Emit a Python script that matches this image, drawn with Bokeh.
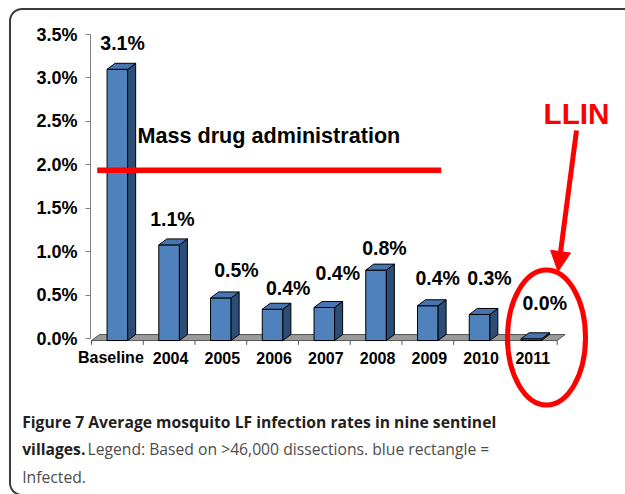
from bokeh.plotting import figure
from bokeh.models import (FixedTicker, PrintfTickFormatter, Label, Arrow, NormalHead,
                          ColumnDataSource, Range1d)
from bokeh.core.properties import value
from bokeh.embed import file_html
from bokeh.resources import INLINE
import numpy as np

# ---------------- data ----------------
categories = ["Baseline", "2004", "2005", "2006", "2007", "2008", "2009", "2010", "2011"]
infection_rate = [3.10, 1.08, 0.47, 0.34, 0.36, 0.79, 0.38, 0.28, 0.00]   # percent
value_labels = ["3.1%", "1.1%", "0.5%", "0.4%", "0.4%", "0.8%", "0.4%", "0.3%", "0.0%"]
y_ticks = [0.0, 0.5, 1.0, 1.5, 2.0, 2.5, 3.0, 3.5]
mda_level = 1.94
caption_bold_1 = "Figure 7 Average mosquito LF infection rates in nine sentinel"
caption_bold_2 = "villages."
caption_norm_2 = "Legend: Based on >46,000 dissections. blue rectangle ="
caption_norm_3 = "Infected."

# ---------------- layout / style ----------------
PX_X = 51.74   # pixels per category
PX_Y = 86.94   # pixels per percent
X0 = 116.87    # pixel of first category centre
Y0 = 338.3     # pixel of 0 %
W, H = 625, 494


def dx(px):
    return (px - X0) / PX_X


def dy(py):
    return (Y0 - py) / PX_Y


hw = 10.3 / PX_X          # half width of front face
ddx = 8.0 / PX_X          # 3D depth in x
ddy = 6.0 / PX_Y          # 3D depth in y
base = -0.02
label_dx = [0.10, 0.065, 0.30, 0.30, 0.26, 0.16, 0.19, 0.19, 0.26]
label_dy = [0.30, 0.30, 0.32, 0.24, 0.40, 0.25, 0.32, 0.42, 0.41]
cat_dx = [-6.5 / PX_X] + [1.5 / PX_X] * 8

FRONT = "#4F81BD"
SIDE = "#2C4D75"
TOP = "#4775B2"
FONT = "Liberation Sans"

p = figure(width=W, height=H, output_backend="svg", toolbar_location=None,
           x_range=Range1d(dx(0), dx(W)), y_range=Range1d(dy(H), dy(0)),
           x_axis_location=None, y_axis_location="left", min_border=0,
           min_border_left=0, min_border_right=0, min_border_top=0, min_border_bottom=0)
p.outline_line_color = None
p.grid.visible = False
p.background_fill_color = "white"
p.border_fill_color = "white"

n = len(categories)

# rounded frame of the figure panel
r = 12
t1 = np.linspace(np.pi / 2, np.pi, 10)          # bottom-left corner
t2 = np.linspace(np.pi, 1.5 * np.pi, 10)        # top-left corner
cx, top_y, bot_y = 9.5, 8.5, 494.5
bx_px = list(cx + r + r * np.cos(t1)) + list(cx + r + r * np.cos(t2)) + [660]
by_px = list(bot_y - r + r * np.sin(t1)) + list(top_y + r + r * np.sin(t2)) + [top_y]
p.line([dx(v) for v in bx_px], [dy(v) for v in by_px], line_color="#3c3c3c", line_width=2)

# floor
p.patch([-0.5, n - 0.5, n - 0.5 + ddx, -0.5 + ddx],
        [base, base, base + ddy, base + ddy],
        fill_color="#9a9a9a", line_color="#555555", line_width=1)

front_xs, front_ys, side_xs, side_ys, top_xs, top_ys = [], [], [], [], [], []
for i, v in enumerate(infection_rate):
    front_xs.append([i - hw, i + hw, i + hw, i - hw])
    front_ys.append([base, base, v, v])
    side_xs.append([i + hw, i + hw + ddx, i + hw + ddx, i + hw])
    side_ys.append([base, base + ddy, v + ddy, v])
    top_xs.append([i - hw, i + hw, i + hw + ddx, i - hw + ddx])
    top_ys.append([v, v, v + ddy, v + ddy])

p.patches(front_xs, front_ys, fill_color=FRONT, line_color="black", line_width=1)
p.patches(side_xs, side_ys, fill_color=SIDE, line_color="black", line_width=1)
p.patches(top_xs, top_ys, fill_color=TOP, line_color="black", line_width=1)

# x tick marks between categories
bx = [i - 0.5 for i in range(n + 1)]
p.segment(x0=bx, y0=[base] * len(bx), x1=bx, y1=[base - 0.05] * len(bx),
          line_color="#555555", line_width=1)

# category labels
p.text(x=[i + d for i, d in enumerate(cat_dx)], y=[dy(357)] * n, text=categories,
       text_font=value(FONT), text_font_style="bold", text_font_size="16px",
       text_align="center", text_baseline="middle", text_color="black")

# value labels
src = ColumnDataSource(dict(
    x=[i + d for i, d in enumerate(label_dx)],
    y=[v + d for v, d in zip(infection_rate, label_dy)],
    t=value_labels))
p.text(x="x", y="y", text="t", source=src, text_font=value(FONT),
       text_font_style="bold", text_font_size="19.5px", text_align="center",
       text_baseline="middle", text_color="black")

# y axis (inside the frame, at the left edge of the category band)
ax = p.yaxis[0]
ax.fixed_location = dx(90)
ax.ticker = FixedTicker(ticks=y_ticks)
ax.formatter = PrintfTickFormatter(format="%.1f%%")
ax.bounds = (0, 3.5)
ax.axis_line_color = "#808080"
ax.major_tick_line_color = "#808080"
ax.major_tick_out = 5
ax.major_tick_in = 0
ax.minor_tick_line_color = None
ax.major_label_standoff = 8
ax.major_label_text_font = FONT
ax.major_label_text_font_style = "bold"
ax.major_label_text_font_size = "18px"
ax.major_label_text_color = "black"

# MDA line and label
p.segment(x0=[dx(96.7)], y0=[mda_level], x1=[dx(440.7)], y1=[mda_level],
          line_color="red", line_width=5.5)
p.add_layout(Label(x=dx(137), y=dy(134.5), text="Mass drug administration",
                   text_font=FONT, text_font_style="bold", text_font_size="21.6px",
                   text_color="black", text_baseline="middle"))

# LLIN
p.add_layout(Label(x=dx(543), y=dy(112.5), text="LLIN", text_font=FONT,
                   text_font_style="bold", text_font_size="29.7px",
                   text_color="red", text_baseline="middle"))
p.add_layout(Arrow(end=NormalHead(size=20, fill_color="red", line_color="red"),
                   x_start=dx(576), y_start=dy(130), x_end=dx(557.5), y_end=dy(271),
                   line_color="red", line_width=5))
p.ellipse(x=[dx(546)], y=[dy(337)], width=[78 / PX_X], height=[135 / PX_Y],
          fill_color=None, line_color="red", line_width=5)

# caption
CAP = "Open Sans"
p.add_layout(Label(x=dx(21.7), y=dy(421.7), text=caption_bold_1, text_font=CAP,
                   text_font_style="bold", text_font_size="15.7px",
                   text_color="#231f20", text_baseline="middle"))
p.add_layout(Label(x=dx(21.7), y=dy(448), text=caption_bold_2, text_font=CAP,
                   text_font_style="bold", text_font_size="15.7px",
                   text_color="#231f20", text_baseline="middle"))
p.add_layout(Label(x=dx(87), y=dy(448), text=caption_norm_2, text_font=CAP,
                   text_font_size="15.7px", text_color="#4d4d4d",
                   text_baseline="middle"))
p.add_layout(Label(x=dx(21.7), y=dy(476), text=caption_norm_3, text_font=CAP,
                   text_font_size="15.7px", text_color="#4d4d4d",
                   text_baseline="middle"))

open("out.html", "w").write(file_html(p, INLINE))
